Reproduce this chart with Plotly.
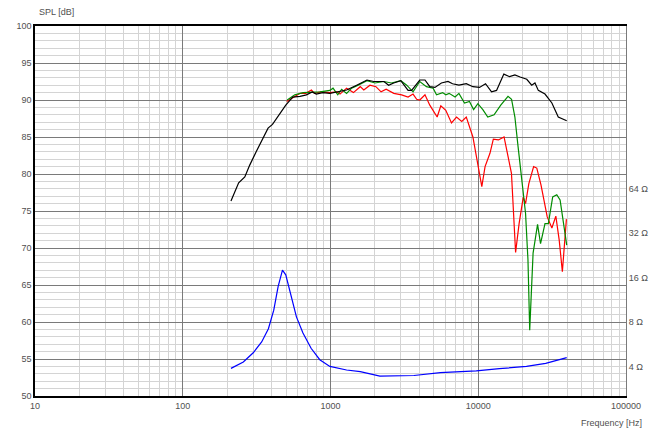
import plotly.graph_objects as go
import numpy as np

# ---- data ----
black_f = [212, 224, 239, 263, 284, 314, 349, 378, 405, 452, 498, 555, 622, 687, 752, 801, 889, 990,
           1100, 1285, 1503, 1765, 1960, 2300, 2475, 2680, 2990, 3350, 3540, 4020, 4360, 4700, 5090,
           5630, 6240, 6700, 7400, 8300, 9200, 10200, 11200, 12300, 13300, 14900, 16300, 17700,
           19200, 21300, 23000, 24200, 25500, 28300, 31500, 34800, 39700]
black_db = [76.35, 77.4, 78.8, 79.6, 81.2, 83.0, 84.8, 86.2, 86.7, 88.0, 89.3, 90.4, 90.5, 90.7, 91.1,
            90.8, 91.0, 90.9, 91.1, 91.35, 92.0, 92.7, 92.5, 92.5, 92.0, 92.3, 92.6, 91.3, 91.3, 92.7,
            92.7, 91.8, 91.7, 92.3, 92.5, 92.2, 92.0, 92.2, 91.8, 91.7, 92.2, 91.1, 91.3, 93.5, 93.15,
            93.4, 93.1, 92.8, 92.0, 92.3, 91.3, 90.8, 89.6, 87.7, 87.2]

green_f = [509, 573, 652, 742, 850, 990, 1040, 1120, 1190, 1285, 1390, 1540, 1765, 2000, 2300, 2580,
           2990, 3280, 3620, 4020, 4460, 4950, 5220, 5740, 6030, 6350, 6970, 7400, 8070, 8720, 9300,
           9940, 10740, 11600, 12800, 14200, 15900, 16800, 17700, 18600, 20100, 20900, 21700, 22300,
           23500, 25200, 26400, 28300, 29800, 31900, 34000, 35800, 39700]
green_db = [90.0, 90.7, 91.0, 91.0, 91.1, 91.3, 91.6, 90.7, 91.45, 90.9, 91.6, 92.0, 92.6, 92.3, 92.5,
            92.3, 92.6, 92.0, 91.1, 92.5, 91.8, 91.6, 90.7, 91.0, 90.7, 90.9, 90.4, 90.9, 89.6, 89.8,
            88.7, 89.5, 88.7, 87.7, 88.0, 89.3, 90.5, 90.1, 87.7, 83.7, 77.8, 74.7, 68.4, 58.9, 69.3,
            73.2, 70.6, 73.3, 73.3, 76.9, 77.2, 76.5, 70.4]

red_f = [505, 561, 622, 680, 743, 780, 860, 990, 1100, 1160, 1285, 1430, 1590, 1680, 1850, 2030, 2200,
         2380, 2680, 3030, 3350, 3620, 3830, 4020, 4360, 4700, 5270, 5580, 6030, 6590, 7130, 7730,
         8300, 9200, 9850, 10570, 11120, 12000, 12650, 13700, 14950, 15850, 16780, 17900, 18900,
         20150, 20900, 22000, 23700, 24900, 26600, 29300, 31500, 33500, 35300, 37100, 38400, 39500]
red_db = [89.8, 90.4, 90.9, 90.9, 91.35, 90.9, 91.1, 91.0, 91.1, 90.8, 91.6, 91.0, 91.8, 91.35, 92.0,
          91.8, 91.1, 91.45, 90.9, 90.7, 90.4, 90.8, 90.1, 90.0, 90.7, 89.3, 87.7, 89.2, 88.6, 86.9,
          87.7, 87.1, 87.7, 85.0, 81.9, 78.3, 81.0, 82.8, 84.7, 84.6, 85.0, 82.3, 80.1, 69.4, 73.3,
          76.85, 76.0, 78.7, 81.0, 80.8, 78.5, 74.2, 72.7, 74.3, 71.1, 66.8, 70.2, 73.9]

imp_f = [212, 257, 300, 342, 380, 413, 442, 473, 498, 536, 588, 651, 739, 846, 990, 1285, 1590, 2160,
         3670, 5540, 9700, 13900, 21200, 28600, 39700]
imp_ohm = [3.88, 4.29, 4.95, 5.86, 7.21, 9.62, 13.9, 17.96, 16.7, 12.6, 8.67, 6.73, 5.31, 4.44, 4.0,
           3.78, 3.69, 3.44, 3.47, 3.63, 3.73, 3.86, 4.0, 4.19, 4.59]

x_major = [10, 100, 1000, 10000, 100000]
x_labels = ["10", "100", "1000", "10000", "100000"]
ohm_ticks = [4, 8, 16, 32, 64]
ohm_labels = ["4 Ω", "8 Ω", "16 Ω", "32 Ω", "64 Ω"]

# ---- figure ----
x_minor = [m * d for d in [10, 100, 1000, 10000] for m in range(2, 10)]
font = dict(family="Liberation Sans, Arial, sans-serif", size=9, color="#505050")

fig = go.Figure()
fig.add_trace(go.Scatter(x=red_f, y=red_db, mode="lines", line=dict(color="#ff0000", width=1.2)))
fig.add_trace(go.Scatter(x=green_f, y=green_db, mode="lines", line=dict(color="#008c00", width=1.2)))
fig.add_trace(go.Scatter(x=black_f, y=black_db, mode="lines", line=dict(color="#000000", width=1.2)))
fig.add_trace(go.Scatter(x=imp_f, y=imp_ohm, mode="lines", yaxis="y2",
                         line=dict(color="#0000ff", width=1.2)))

# ohm axis mapping: 8 ohm <-> 60 dB, 6 dB per octave
z_lo = 8 * 2 ** ((50 - 60) / 6)
z_hi = 8 * 2 ** ((100 - 60) / 6)

fig.update_layout(
    width=655, height=444,
    margin=dict(l=35, r=29, t=26, b=48, autoexpand=False),
    paper_bgcolor="white", plot_bgcolor="white",
    showlegend=False,
    font=font,
    xaxis=dict(type="log", range=[1, 5], tickvals=x_major, ticktext=x_labels,
               showgrid=True, gridcolor="#7a7a7a", gridwidth=1,
               minor=dict(tickvals=x_minor, showgrid=True, gridcolor="#d4d4d4", gridwidth=1, ticks=""),
               showline=True, linecolor="#000000", linewidth=1.5, mirror=True,
               ticks="", zeroline=False, tickfont=font, automargin=False),
    yaxis=dict(range=[50, 100], dtick=5, tick0=50,
               showgrid=True, gridcolor="#7a7a7a", gridwidth=1,
               minor=dict(dtick=1, showgrid=True, gridcolor="#d4d4d4", gridwidth=1, ticks=""),
               showline=True, linecolor="#000000", linewidth=1.5,
               ticks="", zeroline=False, tickfont=font, automargin=False),
    yaxis2=dict(type="log", overlaying="y", side="right",
                range=[np.log10(z_lo), np.log10(z_hi)],
                tickvals=ohm_ticks, ticktext=ohm_labels, showgrid=False,
                showline=True, linecolor="#7a7a7a", linewidth=1,
                ticks="", zeroline=False, tickfont=font, automargin=False),
    annotations=[
        dict(text="SPL [dB]", xref="paper", yref="paper", x=0.003, y=1.0, yshift=7,
             xanchor="left", yanchor="bottom", showarrow=False, font=font),
        dict(text="Frequency [Hz]", xref="paper", yref="paper", x=1.0, y=0, xanchor="right",
             yanchor="top", xshift=18, yshift=-20, showarrow=False, font=font),
    ],
)

fig.write_html("out.html", config={"displayModeBar": False},
               post_script="document.body.style.margin='0';")
